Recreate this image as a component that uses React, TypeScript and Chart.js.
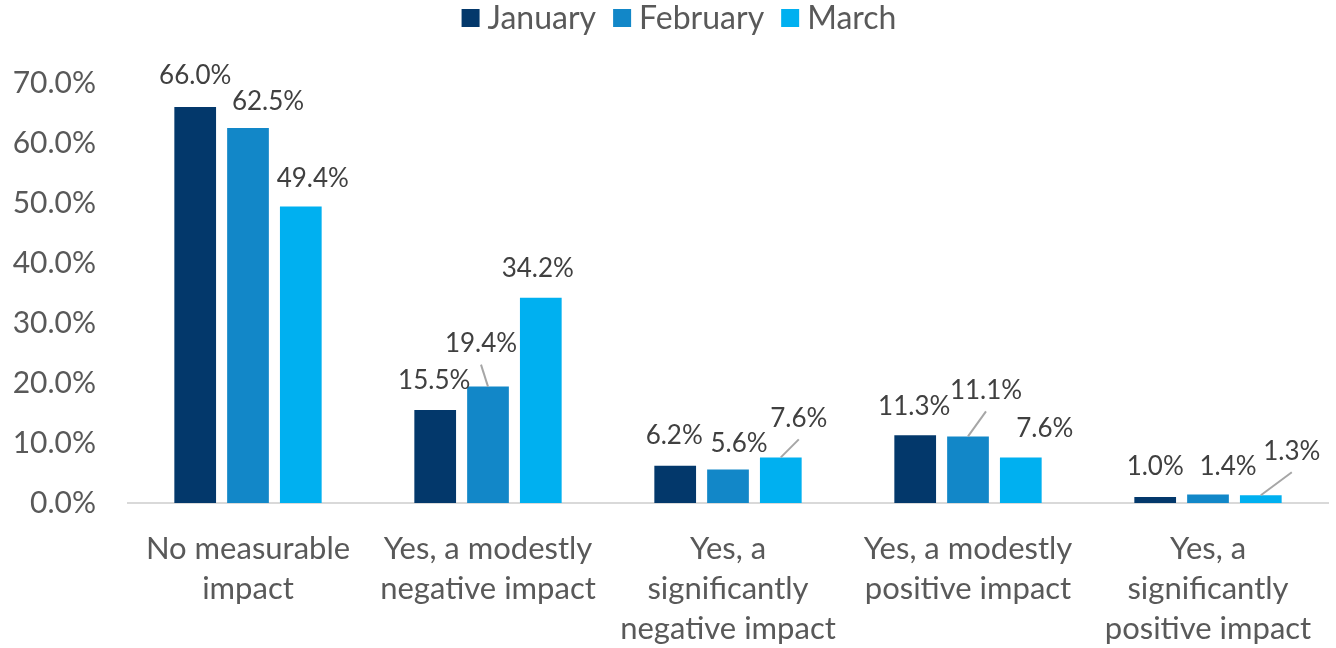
import React, { useEffect, useRef } from "react";
import { Chart, registerables } from "chart.js";

Chart.register(...registerables);

const categories: string[][] = [
  ["No measurable", "impact"],
  ["Yes, a modestly", "negative impact"],
  ["Yes, a", "significantly", "negative impact"],
  ["Yes, a modestly", "positive impact"],
  ["Yes, a", "significantly", "positive impact"],
];
const seriesNames = ["January", "February", "March"];
const january = [66.0, 15.5, 6.2, 11.3, 1.0];
const february = [62.5, 19.4, 5.6, 11.1, 1.4];
const march = [49.4, 34.2, 7.6, 7.6, 1.3];
const yTicks = [0, 10, 20, 30, 40, 50, 60, 70];

const colors = ["#03386B", "#1287C8", "#00B0F0"];

// label placement (px offset of label centre from top-centre of the bar)
const labelOffsets: number[][][] = [
  [[0, -31], [-1, -29], [-1, -30], [-1, -29], [0, -30]],
  [[20, -26], [-7, -43], [11, -26], [18, -46], [20, -28]],
  [[12, -28], [-3, -29], [18, -39], [24, -29], [31, -44]],
];
const leaders: boolean[][] = [
  [false, false, false, false, false],
  [false, true, false, true, false],
  [false, false, true, false, true],
];

const FONT = "Lato, 'Open Sans', sans-serif";

const labelPlugin = {
  id: "barLabels",
  afterDatasetsDraw(chart: any) {
    const ctx = chart.ctx;
    ctx.save();
    ctx.font = `26px ${FONT}`;
    ctx.textAlign = "center";
    ctx.textBaseline = "middle";
    chart.data.datasets.forEach((ds: any, di: number) => {
      const meta = chart.getDatasetMeta(di);
      meta.data.forEach((bar: any, i: number) => {
        const [dx, dy] = labelOffsets[di][i];
        const lx = bar.x + dx;
        const ly = bar.y + dy;
        if (leaders[di][i]) {
          ctx.strokeStyle = "#A6A6A6";
          ctx.lineWidth = 2;
          ctx.beginPath();
          ctx.moveTo(lx, ly + 21);
          ctx.lineTo(bar.x, bar.y);
          ctx.stroke();
        }
        ctx.fillStyle = "#404040";
        ctx.fillText(ds.data[i].toFixed(1) + "%", lx, ly);
      });
    });
    ctx.restore();
  },
};

const legendPlugin = {
  id: "customLegend",
  afterDraw(chart: any) {
    const ctx = chart.ctx;
    ctx.save();
    ctx.font = `32px ${FONT}`;
    ctx.textBaseline = "middle";
    ctx.textAlign = "left";
    const box = 18;
    const gapText = 8;
    const gapItem = 17;
    const widths = seriesNames.map((n) => ctx.measureText(n).width);
    const total =
      widths.reduce((a, w) => a + box + gapText + w, 0) + gapItem * (seriesNames.length - 1);
    let x = 679 - total / 2;
    const y = 18;
    seriesNames.forEach((n, i) => {
      ctx.fillStyle = colors[i];
      ctx.fillRect(x, y - box / 2, box, box);
      ctx.fillStyle = "#595959";
      ctx.fillText(n, x + box + gapText, y + 1);
      x += box + gapText + widths[i] + gapItem;
    });
    ctx.restore();
  },
};

export default function App() {
  const ref = useRef<HTMLCanvasElement>(null);
  useEffect(() => {
    document.body.style.margin = "0";
    const chart = new Chart(ref.current!, {
      type: "bar",
      data: {
        labels: categories,
        datasets: [january, february, march].map((d, i) => ({
          label: seriesNames[i],
          data: d,
          backgroundColor: colors[i],
          barPercentage: 0.79,
          categoryPercentage: 0.66,
        })),
      },
      options: {
        responsive: false,
        animation: false,
        layout: { padding: { top: 83, right: 8, left: 0, bottom: 0 } },
        plugins: {
          legend: { display: false },
          tooltip: { enabled: false },
        },
        scales: {
          x: {
            grid: { display: false },
            border: { display: true, color: "#D9D9D9", width: 2 },
            ticks: {
              autoSkip: false,
              maxRotation: 0,
              minRotation: 0,
              color: "#595959",
              padding: 18,
              font: { family: FONT, size: 31, lineHeight: "40px" },
            },
            afterFit: (s: any) => {
              s.height = 145;
            },
          },
          y: {
            min: 0,
            max: 70,
            afterBuildTicks: (s: any) => {
              s.ticks = yTicks.map((v) => ({ value: v }));
            },
            grid: { display: false },
            border: { display: false },
            ticks: {
              color: "#595959",
              padding: 24,
              font: { family: FONT, size: 30 },
              callback: (v: any) => Number(v).toFixed(1) + "%",
            },
            afterFit: (s: any) => {
              s.width = 128;
            },
          },
        },
      },
      plugins: [labelPlugin, legendPlugin],
    });
    return () => chart.destroy();
  }, []);
  return (
    <div style={{ position: "absolute", left: 0, top: 0, width: 1336, height: 648 }}>
      <canvas ref={ref} width={1336} height={648} />
    </div>
  );
}
